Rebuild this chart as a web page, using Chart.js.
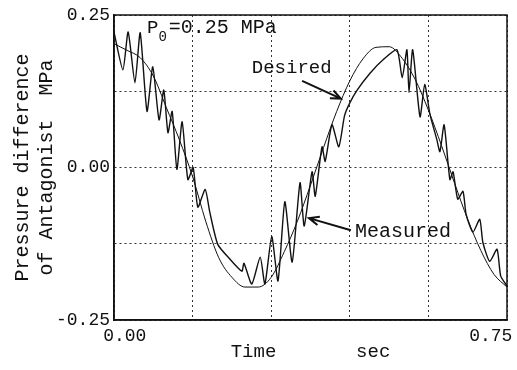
<!DOCTYPE html>
<html>
<head>
<meta charset="utf-8">
<script src="https://cdn.jsdelivr.net/npm/chart.js@4.4.1/dist/chart.umd.min.js"></script>
<style>
  body { margin: 0; background: #fff; }
  #wrap { width: 517px; height: 370px; position: relative; }
</style>
</head>
<body>
<div id="wrap"><canvas id="chart"></canvas></div>
<script>
// Pressure difference of antagonist, desired vs measured (P0 = 0.25 MPa)

const desiredTime = [0, 0.025, 0.05, 0.075, 0.1, 0.125, 0.15, 0.175, 0.2, 0.225, 0.25, 0.275, 0.3,
  0.325, 0.35, 0.375, 0.4, 0.425, 0.45, 0.475, 0.5, 0.525, 0.55, 0.575, 0.6, 0.625, 0.65, 0.675,
  0.7, 0.725, 0.75];
const desiredValue = [0.203, 0.192, 0.180, 0.150, 0.098, 0.045, -0.015, -0.088, -0.148, -0.180,
  -0.196, -0.196, -0.180, -0.138, -0.088, -0.029, 0.033, 0.092, 0.142, 0.178, 0.197, 0.198, 0.179,
  0.144, 0.094, 0.036, -0.026, -0.085, -0.136, -0.175, -0.196];

const measuredTime = [0, 0.017, 0.027, 0.040, 0.050, 0.063, 0.074, 0.086, 0.095, 0.103, 0.111,
  0.120, 0.130, 0.141, 0.151, 0.160, 0.174, 0.183, 0.198, 0.221, 0.244, 0.248, 0.263, 0.279, 0.288,
  0.301, 0.313, 0.326, 0.340, 0.355, 0.363, 0.378, 0.384, 0.397, 0.403, 0.416, 0.429, 0.440, 0.450,
  0.464, 0.489, 0.514, 0.540, 0.550, 0.559, 0.563, 0.570, 0.584, 0.593, 0.603, 0.616, 0.622, 0.630,
  0.641, 0.647, 0.656, 0.666, 0.672, 0.685, 0.698, 0.704, 0.717, 0.731, 0.738, 0.750];
const measuredValue = [0.222, 0.160, 0.222, 0.139, 0.221, 0.092, 0.165, 0.078, 0.127, 0.057, 0.092,
  -0.003, 0.075, -0.020, 0.000, -0.065, -0.036, -0.074, -0.126, -0.150, -0.170, -0.157, -0.191,
  -0.147, -0.191, -0.113, -0.186, -0.056, -0.155, -0.025, -0.096, -0.007, -0.047, 0.034, 0.010,
  0.070, 0.034, 0.085, 0.106, 0.127, 0.155, 0.177, 0.193, 0.147, 0.193, 0.123, 0.193, 0.083, 0.136,
  0.087, 0.046, 0.026, 0.070, -0.020, -0.007, -0.052, -0.039, -0.077, -0.106, -0.085, -0.123,
  -0.154, -0.134, -0.178, -0.194];

const xGrid = [0, 0.15, 0.3, 0.45, 0.6, 0.75];
const yGrid = [-0.25, -0.125, 0, 0.125, 0.25];
const xTickLabels = ['0.00', '0.75'];
const yTickLabels = ['0.25', '0.00', '-0.25'];

const mono = "'Liberation Mono', 'DejaVu Sans Mono', monospace";
const ink = '#111';

const fmt = v => (Math.abs(v) < 1e-9 ? 0 : v).toFixed(2);

function arrow(ctx, x1, y1, x2, y2) {
  const ang = Math.atan2(y2 - y1, x2 - x1);
  ctx.beginPath();
  ctx.moveTo(x1, y1);
  ctx.lineTo(x2, y2);
  ctx.moveTo(x2 - 11 * Math.cos(ang - 0.4), y2 - 11 * Math.sin(ang - 0.4));
  ctx.lineTo(x2, y2);
  ctx.lineTo(x2 - 11 * Math.cos(ang + 0.4), y2 - 11 * Math.sin(ang + 0.4));
  ctx.stroke();
}

const notes = {
  id: 'notes',
  afterDraw(chart) {
    const {ctx, chartArea: a, scales: {x, y}} = chart;
    ctx.save();
    ctx.strokeStyle = ink;
    ctx.fillStyle = ink;
    ctx.lineWidth = 1.5;
    ctx.strokeRect(a.left, a.top, a.right - a.left, a.bottom - a.top);

    // P0 label
    let px = x.getPixelForValue(0.063), py = y.getPixelForValue(0.2206);
    ctx.font = '19px ' + mono;
    ctx.textBaseline = 'alphabetic';
    ctx.fillText('P', px, py);
    px += ctx.measureText('P').width;
    ctx.font = '14px ' + mono;
    ctx.fillText('0', px, py + 8);
    px += ctx.measureText('0').width + 2;
    ctx.font = '20px ' + mono;
    ctx.fillText('=0.25 MPa', px, py);

    // Desired
    ctx.font = '19px ' + mono;
    ctx.fillText('Desired', x.getPixelForValue(0.263), y.getPixelForValue(0.155));
    ctx.lineWidth = 2;
    arrow(ctx, x.getPixelForValue(0.359), y.getPixelForValue(0.142),
      x.getPixelForValue(0.433), y.getPixelForValue(0.113));

    // Measured
    ctx.font = '20px ' + mono;
    ctx.fillText('Measured', x.getPixelForValue(0.460), y.getPixelForValue(-0.114));
    arrow(ctx, x.getPixelForValue(0.452), y.getPixelForValue(-0.103),
      x.getPixelForValue(0.372), y.getPixelForValue(-0.083));
    ctx.restore();
  }
};

new Chart(document.getElementById('chart'), {
  type: 'line',
  data: {
    datasets: [{
      label: 'Desired',
      data: desiredTime.map((t, i) => ({x: t, y: desiredValue[i]})),
      borderColor: ink,
      borderWidth: 1,
      pointRadius: 0,
      cubicInterpolationMode: 'monotone'
    }, {
      label: 'Measured',
      data: measuredTime.map((t, i) => ({x: t, y: measuredValue[i]})),
      borderColor: ink,
      borderWidth: 1.4,
      pointRadius: 0,
      tension: 0.2
    }]
  },
  options: {
    responsive: true,
    maintainAspectRatio: false,
    animation: false,
    layout: { padding: { top: 15, right: 10, left: 0, bottom: 0 } },
    plugins: { legend: { display: false }, tooltip: { enabled: false } },
    scales: {
      x: {
        type: 'linear',
        min: 0,
        max: 0.75,
        afterBuildTicks: s => { s.ticks = xGrid.map(v => ({value: v})); },
        afterFit: s => { s.height = 50; s.paddingLeft = 0; s.paddingRight = 0; },
        ticks: {
          autoSkip: false,
          maxRotation: 0,
          padding: 5,
          color: ink,
          font: { family: mono, size: 18 },
          callback: (v, i, ticks) => {
            const s = fmt(v);
            if (!xTickLabels.includes(s)) return '';
            return i === 0 ? '  ' + s : s + '   ';
          }
        },
        grid: { color: '#333', lineWidth: 1, drawTicks: false },
        border: { color: ink, width: 1.5, dash: [2, 3] },
        title: {
          display: true,
          text: 'Time       sec',
          color: ink,
          font: { family: mono, size: 19 },
          padding: { top: 0, bottom: 7 }
        }
      },
      y: {
        type: 'linear',
        min: -0.25,
        max: 0.25,
        afterBuildTicks: s => { s.ticks = yGrid.map(v => ({value: v})); },
        afterFit: s => { s.width = 114; },
        ticks: {
          autoSkip: false,
          padding: 4,
          color: ink,
          font: { family: mono, size: 18 },
          callback: v => (yTickLabels.includes(fmt(v)) ? fmt(v) : '')
        },
        grid: { color: '#333', lineWidth: 1, drawTicks: false },
        border: { color: ink, width: 1.5, dash: [2, 3] },
        title: {
          display: true,
          text: ['Pressure difference', 'of Antagonist  MPa'],
          color: ink,
          font: { family: mono, size: 20, lineHeight: 1.2 },
          padding: { top: 11, bottom: 0 }
        }
      }
    }
  },
  plugins: [notes]
});
</script>
</body>
</html>
